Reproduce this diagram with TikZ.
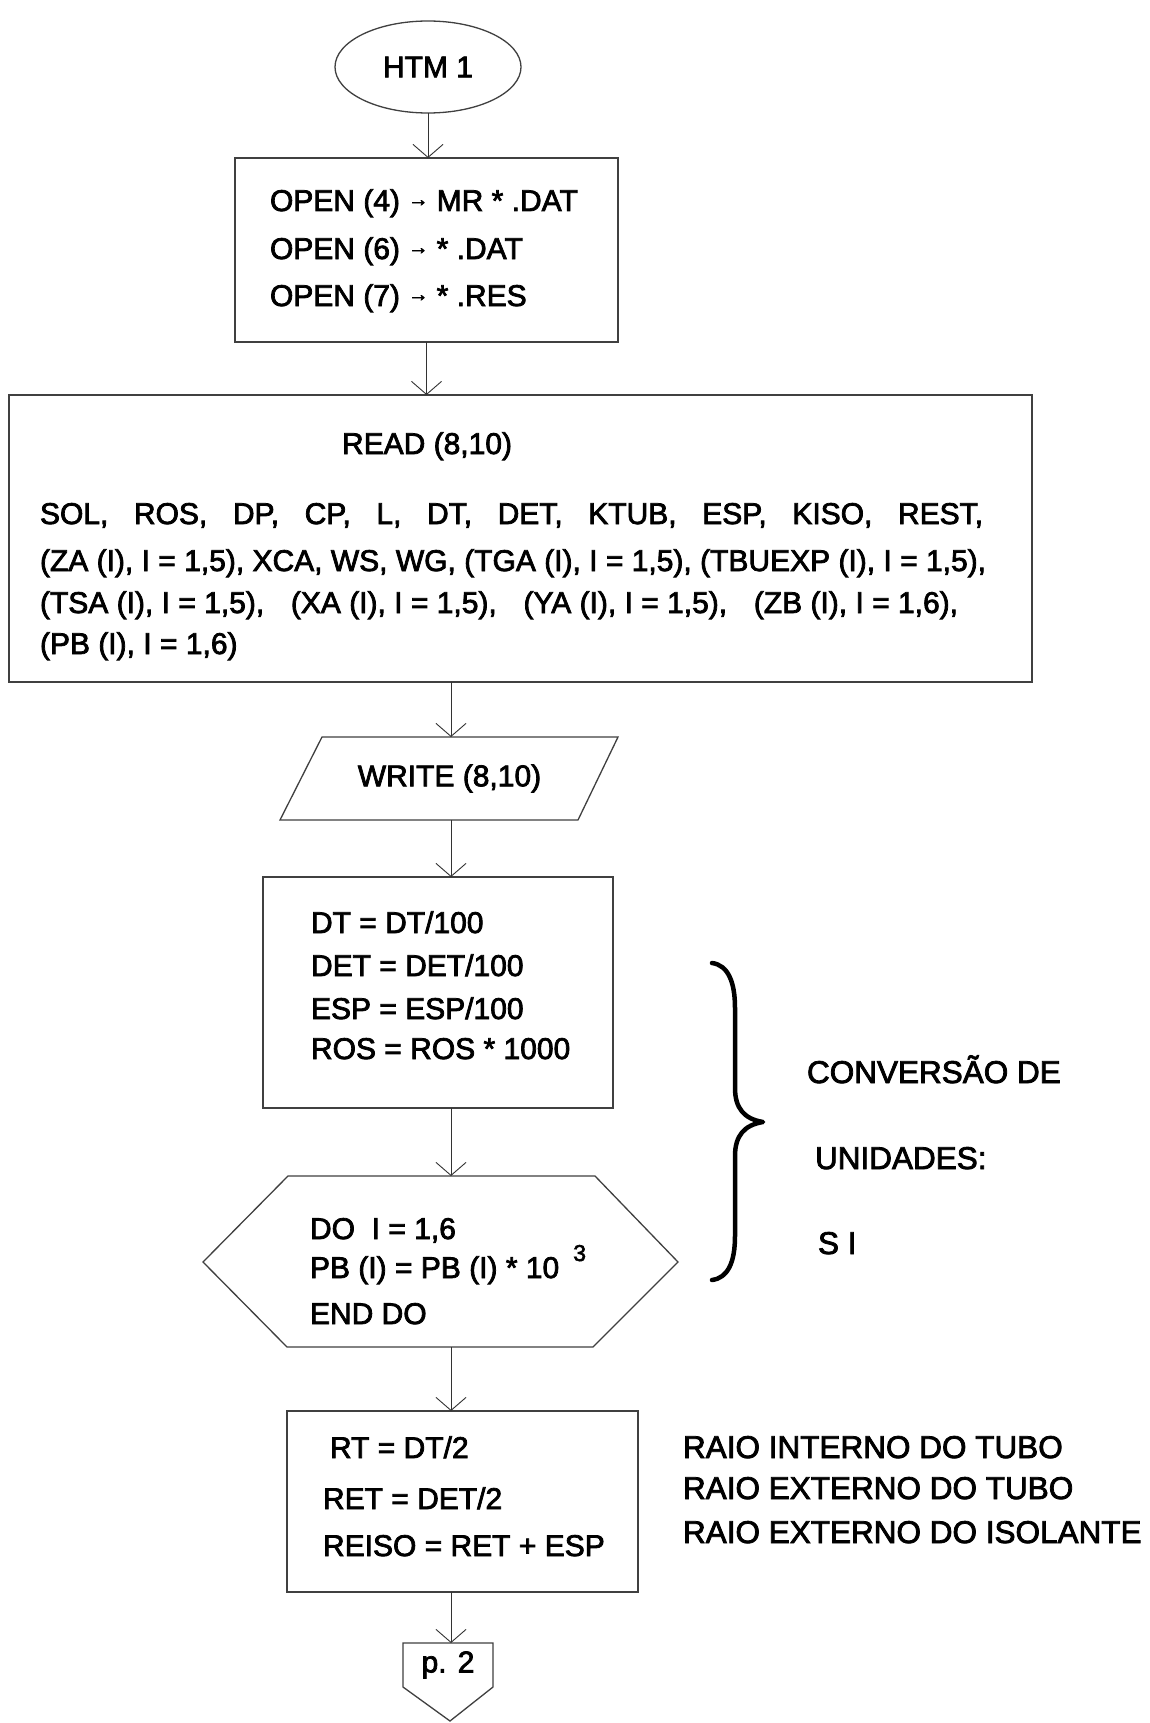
\documentclass[tikz,border=0pt]{standalone}
\usepackage{fontspec}
\setmainfont{Liberation Sans}
\newfontfamily\hv{Liberation Sans}[FakeBold=2.5]
\usetikzlibrary{shapes.geometric,arrows.meta}
\newcommand\flarrow{\raisebox{5pt}{\fontsize{20}{20}\selectfont →}}
\begin{document}
\begin{tikzpicture}[x=1pt,y=-1pt,
  every node/.style={inner sep=0pt, outer sep=0pt},
  txt/.style={anchor=base west, font=\hv\fontsize{30}{36}\selectfont},
  lbl/.style={anchor=base west, font=\hv\fontsize{31.5}{36}\selectfont},
  boxline/.style={draw=black!75, line width=1.3pt},
  arr/.style={draw=black!80, line width=0.9pt, -{Straight Barb[length=13pt,width=30pt]}},
]
\fill[white] (0,0) rectangle (1150,1723);
\useasboundingbox (0,0) rectangle (1150,1723);
\coordinate (cx) at (451,0);

% start
\node[ellipse, boxline, minimum width=186pt, minimum height=92pt, font=\hv\fontsize{30}{36}\selectfont] (htm) at (428,67) {HTM 1};

% OPEN box
\node[rectangle, boxline, minimum width=383pt, minimum height=184pt] (open) at (426.5,250) {};
\node[txt] (o1) at (270,211) {OPEN (4) \flarrow{} MR * .DAT};
\node[txt] (o2) at (270,259) {OPEN (6) \flarrow{} * .DAT};
\node[txt] (o3) at (270,306) {OPEN (7) \flarrow{} * .RES};

% READ box
\node[rectangle, boxline, minimum width=1023pt, minimum height=287pt] (read) at (520.5,538.5) {};
\node[txt] (rh) at (342,454) {READ (8,10)};
\node[txt] (r1) at (40,524) {\makebox[943pt][s]{SOL, ROS, DP, CP, L, DT, DET, KTUB, ESP, KISO, REST,}};
\node[txt] (r2) at (40,571) {(ZA (I), I = 1,5), XCA, WS, WG, (TGA (I), I = 1,5), (TBUEXP (I), I = 1,5),};
\node[txt] (r3) at (40,613) {\makebox[918pt][l]{(TSA (I), I = 1,5),\hfill(XA (I), I = 1,5),\hfill(YA (I), I = 1,5),\hfill(ZB (I), I = 1,6),}};
\node[txt] (r4) at (40,654) {(PB (I), I = 1,6)};

% WRITE parallelogram
\node[minimum width=250pt, minimum height=83pt, font=\hv\fontsize{30}{36}\selectfont] (write) at (449.5,778.5) {WRITE (8,10)};
\draw[boxline] (280,820) -- (322,737) -- (618,737) -- (578,820) -- cycle;

% DT box
\node[rectangle, boxline, minimum width=350pt, minimum height=231pt] (dt) at (438,992.5) {};
\node[txt] (d1) at (311,933) {DT = DT/100};
\node[txt] (d2) at (311,976) {DET = DET/100};
\node[txt] (d3) at (311,1019) {ESP = ESP/100};
\node[txt] (d4) at (311,1059) {ROS = ROS * 1000};

% DO hexagon
\node[minimum width=300pt, minimum height=171pt] (do) at (440.5,1261.5) {};
\draw[boxline] (203,1262) -- (288,1176) -- (595,1176) -- (678,1262) -- (593,1347) -- (287,1347) -- cycle;
\node[txt] (l1) at (310,1239) {DO\ \ I = 1,6};
\node[txt] (l2) at (310,1278) {PB (I) = PB (I) * 10\hspace{14pt}\raisebox{17pt}{\fontsize{23}{23}\selectfont 3}};
\node[txt] (l3) at (310,1324) {END DO};

% RT box
\node[rectangle, boxline, minimum width=351pt, minimum height=181pt] (rt) at (462.5,1501.5) {};
\node[txt] (t1) at (330,1458) {RT = DT/2};
\node[txt] (t2) at (323,1509) {RET = DET/2};
\node[txt] (t3) at (323,1556) {REISO = RET + ESP};

% p. 2 connector
\node[minimum width=90pt, minimum height=44pt, font=\hv\fontsize{30}{36}\selectfont] (p2) at (448,1665) {\raisebox{-8pt}{p. 2}};
\draw[boxline] (p2.north west) -- (p2.north east) -- (p2.south east) -- (450,1721) -- (p2.south west) -- cycle;

% connectors
\draw[arr] (htm.south) -- (htm.south |- open.north);
\draw[arr] (open.south) -- (open.south |- read.north);
\draw[arr] (read.south -| cx) -- (write.north -| cx);
\draw[arr] (write.south -| cx) -- (dt.north -| cx);
\draw[arr] (dt.south -| cx) -- (do.north -| cx);
\draw[arr] (do.south -| cx) -- (rt.north -| cx);
\draw[arr] (rt.south -| cx) -- (p2.north -| cx);

% brace
\draw[line width=4.5pt, line cap=round, line join=round]
  (712,963) .. controls (728,965) and (735,982) .. (735,1008) -- (735,1088)
  .. controls (735,1108) and (744,1119) .. (763,1122)
  .. controls (744,1125) and (735,1136) .. (735,1156) -- (735,1236)
  .. controls (735,1262) and (728,1278) .. (712,1280);

% side labels
\node[lbl] (c1) at (807,1083) {CONVERSÃO DE};
\node[lbl] (c2) at (815,1169) {UNIDADES:};
\node[lbl] (c3) at (818,1254) {S I};
\node[lbl] (a1) at (683,1458) {RAIO INTERNO DO TUBO};
\node[lbl] (a2) at (683,1499) {RAIO EXTERNO DO TUBO};
\node[lbl] (a3) at (683,1543) {RAIO EXTERNO DO ISOLANTE};
\end{tikzpicture}
\end{document}
